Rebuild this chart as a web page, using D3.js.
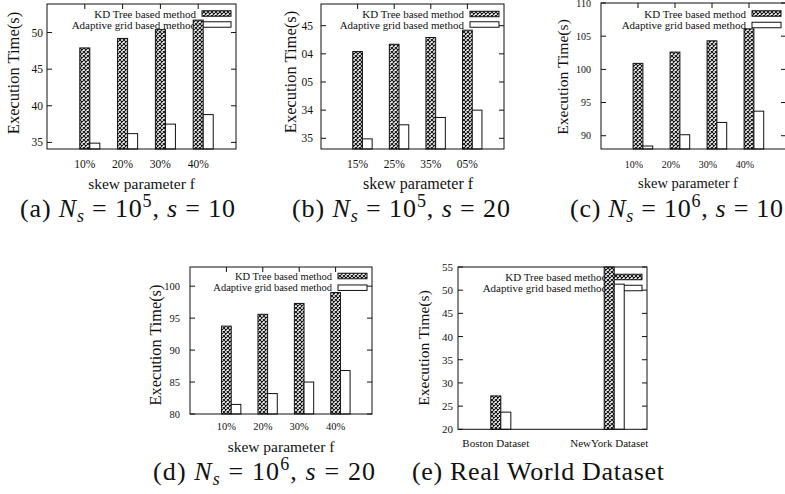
<!DOCTYPE html>
<html>
<head>
<meta charset="utf-8">
<script src="https://cdn.jsdelivr.net/npm/d3@7"></script>
<style>
  body { margin: 0; background: #fff; }
  svg { display: block; }
  text { font-family: "Liberation Serif", "Times New Roman", serif; fill: #111; }
</style>
</head>
<body>
<div id="chart"></div>
<script>
// Series labels
const seriesNames = ['KD Tree based method', 'Adaptive grid based method'];

// (a) N_s = 10^5, s = 10
const skewA = ['10%', '20%', '30%', '40%'];
const kdA = [47.9, 49.2, 50.4, 51.7];
const adaptiveA = [34.9, 36.2, 37.5, 38.8];
const yTicksA = [35, 40, 45, 50];

// (b) N_s = 10^5, s = 20  (tick labels as printed in the figure)
const skewB = ['15%', '25%', '35%', '05%'];
const kdB = [50.4, 51.7, 52.9, 54.2];
const adaptiveB = [34.9, 37.4, 38.7, 40.0];
const yTicksB = [35, 40, 45, 50, 55];
const yTickTextB = ['35', '34', '05', '04', '45'];

// (c) N_s = 10^6, s = 10
const skewC = ['10%', '20%', '30%', '40%'];
const kdC = [100.9, 102.6, 104.3, 106.1];
const adaptiveC = [88.45, 90.15, 92.0, 93.7];
const yTicksC = [90, 95, 100, 105, 110];

// (d) N_s = 10^6, s = 20
const skewD = ['10%', '20%', '30%', '40%'];
const kdD = [93.75, 95.6, 97.3, 99.0];
const adaptiveD = [81.5, 83.2, 85.0, 86.8];
const yTicksD = [80, 85, 90, 95, 100];

// (e) Real world dataset
const datasets = ['Boston Dataset', 'NewYork Dataset'];
const datasetSlots = [0, 3];
const kdE = [27.2, 58];
const adaptiveE = [23.7, 51.3];
const yTicksE = [20, 25, 30, 35, 40, 45, 50, 55];

// Captions
const captionLetters = ['a', 'b', 'c', 'd'];
const captionExp = ['5', '5', '6', '6'];
const captionS = ['10', '20', '10', '20'];
const captionE = '(e) Real World Dataset';

const W = 785, H = 494;
const serif = '"Liberation Serif", "Times New Roman", serif';
const svg = d3.select('#chart').append('svg')
    .attr('width', W)
    .attr('height', H)
    .attr('font-family', serif);

svg.append('rect').attr('width', W).attr('height', H).attr('fill', '#fff');

// Cross-hatch fill used by the KD tree bars
const pat = svg.append('defs').append('pattern')
    .attr('id', 'xhatch')
    .attr('patternUnits', 'userSpaceOnUse')
    .attr('width', 4)
    .attr('height', 4);
pat.append('rect').attr('width', 4).attr('height', 4).attr('fill', '#fff');
pat.append('path')
    .attr('d', 'M-1,-1L5,5M5,-1L-1,5')
    .attr('stroke', '#111')
    .attr('stroke-width', 1.05);

const panels = [
    { frame: [47, 4, 236, 149], yDomain: [34.1, 53.9], yTicks: yTicksA, cats: skewA, slots: [0, 1, 2, 3],
      kd: kdA, ad: adaptiveA, tickFont: 11.5, yGap: 4, labelShift: 0, xTickY: 163.5,
      xTitleX: 141.5, xTitleY: 183, xTitleFont: 15.5, yTitleX: 13.5, yTitleY: 73, yTitleFont: 16.5,
      legendFont: 11, legendRows: [13.5, 24.5], topTicks: true },
    { frame: [321, 4, 504, 149], yDomain: [33.1, 58.85], yTicks: yTicksB, yTickText: yTickTextB, cats: skewB, slots: [0, 1, 2, 3],
      kd: kdB, ad: adaptiveB, tickFont: 11.5, yGap: 8, labelShift: 0, xTickY: 164,
      xTitleX: 418, xTitleY: 183, xTitleFont: 16, yTitleX: 290, yTitleY: 72, yTitleFont: 16.5,
      legendFont: 11, legendRows: [14, 24.5], topTicks: true },
    { frame: [601, 3, 786, 149], yDomain: [88, 110], yTicks: yTicksC, cats: skewC, slots: [0, 1, 2, 3],
      kd: kdC, ad: adaptiveC, tickFont: 10, yGap: 10, labelShift: -4, xTickY: 164,
      xTitleX: 688, xTitleY: 183, xTitleFont: 14.5, yTitleX: 562, yTitleY: 77, yTitleFont: 15.6,
      legendFont: 11, legendRows: [13.5, 25], topTicks: true },
    { frame: [190, 267, 372, 414], yDomain: [80, 103], yTicks: yTicksD, cats: skewD, slots: [0, 1, 2, 3],
      kd: kdD, ad: adaptiveD, tickFont: 10.5, yGap: 10, labelShift: 0, xTickY: 426,
      xTitleX: 281, xTitleY: 446, xTitleFont: 15.5, yTitleX: 155, yTitleY: 345, yTitleFont: 16.3,
      legendFont: 10.5, legendRows: [276, 287.7], topTicks: true },
    { frame: [458, 267, 647, 429.3], yDomain: [20, 55], yTicks: yTicksE, cats: datasets, slots: datasetSlots,
      kd: kdE, ad: adaptiveE, tickFont: 11, yGap: 5, labelShift: 0, xTickY: 442.7,
      xTitleX: null, yTitleX: 423, yTitleY: 348, yTitleFont: 15.6,
      legendFont: 11, legendRows: [277, 288], topTicks: false }
];

function drawPanel(p) {
    const [l, t, r, b] = p.frame;
    const g = svg.append('g');
    const x = d3.scaleLinear().domain([-1, 4]).range([l, r]);
    const y = d3.scaleLinear().domain(p.yDomain).range([b, t]).clamp(true);
    const bw = 0.265;
    const tick = 5;

    // y ticks (both sides, inward)
    p.yTicks.forEach((v, i) => {
        g.append('line').attr('x1', l).attr('x2', l + tick).attr('y1', y(v)).attr('y2', y(v))
            .attr('stroke', '#111');
        g.append('line').attr('x1', r).attr('x2', r - tick).attr('y1', y(v)).attr('y2', y(v))
            .attr('stroke', '#111');
        g.append('text')
            .attr('x', l - p.yGap)
            .attr('y', y(v))
            .attr('text-anchor', 'end')
            .attr('dominant-baseline', 'central')
            .style('font-size', p.tickFont + 'px')
            .text(p.yTickText ? p.yTickText[i] : d3.format('d')(v));
    });

    // x ticks and labels
    p.slots.forEach((s, i) => {
        if (p.topTicks) {
            g.append('line').attr('x1', x(s)).attr('x2', x(s)).attr('y1', t).attr('y2', t + tick)
                .attr('stroke', '#111');
        }
        g.append('text')
            .attr('x', x(s) + p.labelShift)
            .attr('y', p.xTickY)
            .attr('text-anchor', 'middle')
            .attr('dominant-baseline', 'central')
            .style('font-size', p.tickFont + 'px')
            .text(p.cats[i]);
    });

    // legend (drawn under the bars, as in the figure)
    const sw = 29, sh = 5.5;
    const sx = r - 5 - sw;
    p.legendRows.forEach((ry, k) => {
        g.append('text')
            .attr('x', sx - 6)
            .attr('y', ry)
            .attr('text-anchor', 'end')
            .attr('dominant-baseline', 'central')
            .style('font-size', p.legendFont + 'px')
            .text(seriesNames[k]);
        g.append('rect')
            .attr('x', sx).attr('y', ry - sh / 2)
            .attr('width', sw).attr('height', sh)
            .attr('fill', k === 0 ? 'url(#xhatch)' : '#fff')
            .attr('stroke', '#111').attr('stroke-width', 1);
    });

    // bars
    g.selectAll('.kd').data(p.kd).enter().append('rect')
        .attr('x', (d, i) => x(p.slots[i] - bw / 2))
        .attr('y', d => y(d))
        .attr('width', x(bw) - x(0))
        .attr('height', d => b - y(d))
        .attr('fill', 'url(#xhatch)')
        .attr('stroke', '#111').attr('stroke-width', 1);
    g.selectAll('.ad').data(p.ad).enter().append('rect')
        .attr('x', (d, i) => x(p.slots[i] + bw / 2))
        .attr('y', d => y(d))
        .attr('width', x(bw) - x(0))
        .attr('height', d => b - y(d))
        .attr('fill', '#fff')
        .attr('stroke', '#111').attr('stroke-width', 1);

    // frame
    g.append('rect')
        .attr('x', l).attr('y', t)
        .attr('width', r - l).attr('height', b - t)
        .attr('fill', 'none').attr('stroke', '#111').attr('stroke-width', 1);

    // axis titles
    g.append('text')
        .attr('transform', `translate(${p.yTitleX},${p.yTitleY}) rotate(-90)`)
        .attr('text-anchor', 'middle')
        .attr('dominant-baseline', 'central')
        .style('font-size', p.yTitleFont + 'px')
        .text('Execution Time(s)');
    if (p.xTitleX !== null) {
        g.append('text')
            .attr('x', p.xTitleX).attr('y', p.xTitleY)
            .attr('text-anchor', 'middle')
            .attr('dominant-baseline', 'central')
            .style('font-size', p.xTitleFont + 'px')
            .text('skew parameter f');
    }
}

panels.forEach(drawPanel);

// Sub-figure captions: (x) N_s = 10^k, s = v
const capPos = [[20, 217, 215], [292, 217, 218], [570, 217, 213], [153, 480, 222]];
const fs = 26, small = 18;
captionLetters.forEach((letter, i) => {
    const [cx, cy, len] = capPos[i];
    const tx = svg.append('text')
        .attr('x', cx).attr('y', cy)
        .attr('textLength', len)
        .attr('lengthAdjust', 'spacing')
        .style('font-size', fs + 'px');
    tx.append('tspan').text(`(${letter}) `);
    tx.append('tspan').style('font-style', 'italic').text('N');
    tx.append('tspan').style('font-style', 'italic').style('font-size', small + 'px').attr('dy', 5).text('s');
    tx.append('tspan').attr('dy', -5).text(' = 10');
    tx.append('tspan').style('font-size', small + 'px').attr('dy', -10).text(captionExp[i]);
    tx.append('tspan').attr('dy', 10).text(', ');
    tx.append('tspan').style('font-style', 'italic').text('s');
    tx.append('tspan').text(' = ' + captionS[i]);
});
svg.append('text')
    .attr('x', 412).attr('y', 480)
    .attr('textLength', 252)
    .attr('lengthAdjust', 'spacing')
    .style('font-size', fs + 'px')
    .text(captionE);
</script>
</body>
</html>
